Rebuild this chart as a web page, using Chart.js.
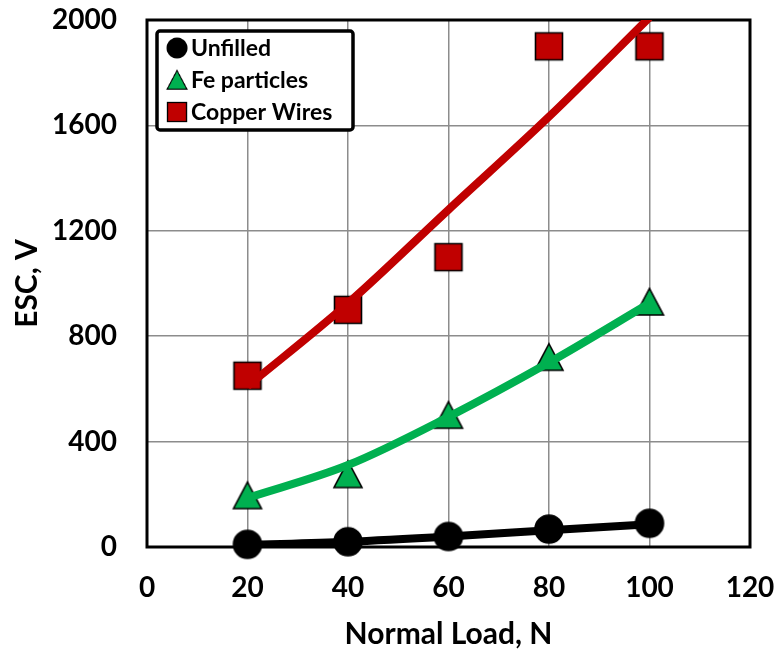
<!DOCTYPE html>
<html>
<head>
<meta charset="utf-8">
<script src="https://cdn.jsdelivr.net/npm/chart.js@4"></script>
<style>
  html, body { margin: 0; padding: 0; background: #fff; }
  #wrap { width: 776px; height: 651px; }
</style>
</head>
<body>
<div id="wrap"><canvas id="escChart" width="776" height="651"></canvas></div>
<script>
// measured points
const loads = [20, 40, 60, 80, 100];
const unfilled = [10, 20, 40, 68, 90];
const feParticles = [195, 275, 500, 720, 930];
const copperWires = [650, 900, 1100, 1900, 1900];

// fitted trend curves at the same loads
const unfilledTrend = [8, 20, 40, 64, 86];
const feTrend = [186, 311, 494, 700, 925];
const copperTrend = [610, 925, 1280, 1633, 2010];

// axis ranges
const xMin = 0, xMax = 120, xStep = 20;
const yMin = 0, yMax = 2000, yStep = 400;

const RED = '#c00000';
const GREEN = '#00b050';
const FONT = 'Lato, "Open Sans", sans-serif';

function toPoints(ys) {
    return loads.map((x, i) => ({ x: x, y: ys[i] }));
}

// marker images: black outline, drawn centred on the point
function makeMarker(kind, fill) {
    const size = 34;
    const c = document.createElement('canvas');
    c.width = size; c.height = size;
    const g = c.getContext('2d');
    const m = size / 2;
    g.fillStyle = fill;
    g.strokeStyle = '#000';
    g.lineWidth = 1.6;
    g.beginPath();
    if (kind === 'circle') {
        g.arc(m, m, 14, 0, Math.PI * 2);
    } else if (kind === 'triangle') {
        g.moveTo(m, m - 13.5);
        g.lineTo(m + 14, m + 13);
        g.lineTo(m - 14, m + 13);
        g.closePath();
    } else {
        g.rect(m - 13.5, m - 13.5, 27, 27);
    }
    g.fill();
    g.stroke();
    return c;
}

const circleMark = makeMarker('circle', '#000');
const triangleMark = makeMarker('triangle', GREEN);
const squareMark = makeMarker('square', RED);

function trendSet(ys, color) {
    return {
        data: toPoints(ys),
        showLine: true,
        borderColor: color,
        borderWidth: 8,
        borderCapStyle: 'butt',
        pointRadius: 0,
        cubicInterpolationMode: 'monotone',
        clip: 0,
        order: 0
    };
}

function markerSet(label, ys, img) {
    return {
        label: label,
        data: toPoints(ys),
        showLine: false,
        pointStyle: img,
        pointRadius: 14,
        clip: false,
        order: 1,
        isMarker: true
    };
}

// black frame round the plot area
const frame = {
    id: 'frame',
    beforeDatasetsDraw(chart) {
        const a = chart.chartArea, ctx = chart.ctx;
        ctx.save();
        ctx.strokeStyle = '#000';
        ctx.lineWidth = 3;
        ctx.strokeRect(a.left, a.top, a.right - a.left, a.bottom - a.top);
        ctx.restore();
    }
};

// axis titles
const titles = {
    id: 'titles',
    afterDraw(chart) {
        const a = chart.chartArea, ctx = chart.ctx;
        ctx.save();
        ctx.fillStyle = '#000';
        ctx.font = 'bold 30px ' + FONT;
        ctx.textAlign = 'center';
        ctx.textBaseline = 'middle';
        ctx.fillText('Normal Load, N', (a.left + a.right) / 2, 634);
        ctx.translate(27, (a.top + a.bottom) / 2);
        ctx.rotate(-Math.PI / 2);
        ctx.fillText('ESC, V', 0, 0);
        ctx.restore();
    }
};

// boxed legend in the upper left corner of the plot
const boxLegend = {
    id: 'boxLegend',
    afterDraw(chart) {
        const ctx = chart.ctx;
        const sets = chart.data.datasets.filter(d => d.isMarker);
        ctx.save();
        ctx.beginPath();
        ctx.roundRect(157, 31, 196, 99, 3);
        ctx.fillStyle = '#fff';
        ctx.fill();
        ctx.lineWidth = 3.5;
        ctx.strokeStyle = '#000';
        ctx.stroke();
        ctx.font = 'bold 23px ' + FONT;
        ctx.fillStyle = '#000';
        ctx.textAlign = 'left';
        ctx.textBaseline = 'middle';
        sets.forEach((d, i) => {
            const y = 48 + i * 32;
            const s = 24;
            ctx.drawImage(d.pointStyle, 177 - s / 2, y - s / 2, s, s);
            ctx.fillText(d.label, 191, y + 1);
        });
        ctx.restore();
    }
};

function createGraph() {
    const ctx = document.getElementById('escChart').getContext('2d');
    new Chart(ctx, {
        type: 'scatter',
        data: {
            datasets: [
                trendSet(unfilledTrend, '#000'),
                trendSet(feTrend, GREEN),
                trendSet(copperTrend, RED),
                markerSet('Unfilled', unfilled, circleMark),
                markerSet('Fe particles', feParticles, triangleMark),
                markerSet('Copper Wires', copperWires, squareMark)
            ]
        },
        options: {
            responsive: false,
            animation: false,
            events: [],
            layout: { padding: { left: 0, right: 26, top: 20, bottom: 0 } },
            scales: {
                x: {
                    type: 'linear',
                    min: xMin, max: xMax,
                    afterFit: s => {
                        s.height = 104;
                        s.paddingLeft = 0;
                        s.paddingRight = 0;
                    },
                    ticks: {
                        stepSize: xStep,
                        padding: 24,
                        color: '#000',
                        font: { family: FONT, size: 28, weight: 'bold' },
                        callback: v => String(v)
                    },
                    grid: { color: '#8c8c8c', lineWidth: 1.5, drawTicks: false },
                    border: { display: false }
                },
                y: {
                    min: yMin, max: yMax,
                    afterFit: s => {
                        s.width = 147;
                        s.paddingTop = 0;
                        s.paddingBottom = 0;
                    },
                    ticks: {
                        stepSize: yStep,
                        padding: 30,
                        color: '#000',
                        font: { family: FONT, size: 28, weight: 'bold' },
                        callback: v => String(v)
                    },
                    grid: { color: '#8c8c8c', lineWidth: 1.5, drawTicks: false },
                    border: { display: false }
                }
            },
            plugins: {
                legend: { display: false },
                tooltip: { enabled: false }
            }
        },
        plugins: [frame, titles, boxLegend]
    });
}

window.onload = function() {
    createGraph();
};
</script>
</body>
</html>
